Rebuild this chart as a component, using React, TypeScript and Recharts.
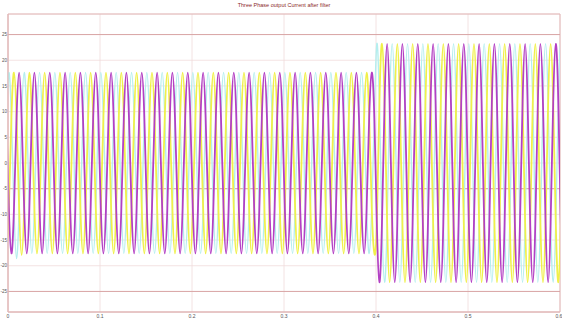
import React from 'react';
import { LineChart, Line, XAxis, YAxis, CartesianGrid, ReferenceLine, ReferenceArea } from 'recharts';

const title = 'Three Phase output Current after filter';
const xTicks = [0, 0.1, 0.2, 0.3, 0.4, 0.5, 0.6];
const yTicks = [-25, -20, -15, -10, -5, 0, 5, 10, 15, 20, 25];
const strongLines = [25, -5, -25];

const time = [
  -0.0018, 0.0009, 0.0037,
  0.0065, 0.0093, 0.0121, 0.0148, 0.0176, 0.0204,
  0.0232, 0.0259, 0.0287, 0.0315, 0.0343, 0.0371,
  0.0398, 0.0426, 0.0454, 0.0482, 0.0509, 0.0537,
  0.0565, 0.0593, 0.0621, 0.0648, 0.0676, 0.0704,
  0.0732, 0.0759, 0.0787, 0.0815, 0.0843, 0.0871,
  0.0898, 0.0926, 0.0954, 0.0982, 0.1009, 0.1037,
  0.1065, 0.1093, 0.1121, 0.1148, 0.1176, 0.1204,
  0.1232, 0.1259, 0.1287, 0.1315, 0.1343, 0.1371,
  0.1398, 0.1426, 0.1454, 0.1482, 0.1509, 0.1537,
  0.1565, 0.1593, 0.1621, 0.1648, 0.1676, 0.1704,
  0.1732, 0.1759, 0.1787, 0.1815, 0.1843, 0.1871,
  0.1898, 0.1926, 0.1954, 0.1982, 0.2009, 0.2037,
  0.2065, 0.2093, 0.2121, 0.2148, 0.2176, 0.2204,
  0.2232, 0.2259, 0.2287, 0.2315, 0.2343, 0.2371,
  0.2398, 0.2426, 0.2454, 0.2482, 0.2509, 0.2537,
  0.2565, 0.2593, 0.2621, 0.2648, 0.2676, 0.2704,
  0.2732, 0.2759, 0.2787, 0.2815, 0.2843, 0.2871,
  0.2898, 0.2926, 0.2954, 0.2982, 0.3009, 0.3037,
  0.3065, 0.3093, 0.3121, 0.3148, 0.3176, 0.3204,
  0.3232, 0.3259, 0.3287, 0.3315, 0.3343, 0.3371,
  0.3398, 0.3426, 0.3454, 0.3482, 0.3509, 0.3537,
  0.3565, 0.3593, 0.3621, 0.3648, 0.3676, 0.3704,
  0.3732, 0.3759, 0.3787, 0.3815, 0.3843, 0.3871,
  0.3898, 0.3926, 0.3954, 0.3982, 0.4009, 0.4037,
  0.4065, 0.4093, 0.4121, 0.4148, 0.4176, 0.4204,
  0.4232, 0.4259, 0.4287, 0.4315, 0.4343, 0.4371,
  0.4398, 0.4426, 0.4454, 0.4482, 0.4509, 0.4537,
  0.4565, 0.4593, 0.4621, 0.4648, 0.4676, 0.4704,
  0.4732, 0.4759, 0.4787, 0.4815, 0.4843, 0.4871,
  0.4898, 0.4926, 0.4954, 0.4982, 0.5009, 0.5037,
  0.5065, 0.5093, 0.5121, 0.5148, 0.5176, 0.5204,
  0.5232, 0.5259, 0.5287, 0.5315, 0.5343, 0.5371,
  0.5398, 0.5426, 0.5454, 0.5482, 0.5509, 0.5537,
  0.5565, 0.5593, 0.5621, 0.5648, 0.5676, 0.5704,
  0.5732, 0.5759, 0.5787, 0.5815, 0.5843, 0.5871,
  0.5898, 0.5926, 0.5954, 0.5982, 0.6009, 0.6037,
];

const phaseYellow = [
  -17.6, -8.8, 8.8,
  17.6, 8.8, -8.8, -17.9, -8.8, 8.8,
  17.6, 8.8, -8.8, -17.6, -8.8, 8.8,
  17.6, 8.8, -8.8, -17.6, -8.8, 8.8,
  17.6, 8.8, -8.8, -17.6, -8.8, 8.8,
  17.6, 8.8, -8.8, -17.6, -8.8, 8.8,
  17.6, 8.8, -8.8, -17.6, -8.8, 8.8,
  17.6, 8.8, -8.8, -17.6, -8.8, 8.8,
  17.6, 8.8, -8.8, -17.6, -8.8, 8.8,
  17.6, 8.8, -8.8, -17.6, -8.8, 8.8,
  17.6, 8.8, -8.8, -17.6, -8.8, 8.8,
  17.6, 8.8, -8.8, -17.6, -8.8, 8.8,
  17.6, 8.8, -8.8, -17.6, -8.8, 8.8,
  17.6, 8.8, -8.8, -17.6, -8.8, 8.8,
  17.6, 8.8, -8.8, -17.6, -8.8, 8.8,
  17.6, 8.8, -8.8, -17.6, -8.8, 8.8,
  17.6, 8.8, -8.8, -17.6, -8.8, 8.8,
  17.6, 8.8, -8.8, -17.6, -8.8, 8.8,
  17.6, 8.8, -8.8, -17.6, -8.8, 8.8,
  17.6, 8.8, -8.8, -17.6, -8.8, 8.8,
  17.6, 8.8, -8.8, -17.6, -8.8, 8.8,
  17.6, 8.8, -8.8, -17.6, -8.8, 8.8,
  17.6, 8.8, -8.8, -17.6, -8.8, 8.8,
  17.6, 8.8, -8.8, -17.6, -8.8, 8.8,
  17.6, 8.8, -8.8, -17.6, -11.6, 11.6,
  23.2, 11.6, -11.6, -23.2, -11.6, 11.6,
  23.2, 11.6, -11.6, -23.2, -11.6, 11.6,
  23.2, 11.6, -11.6, -23.2, -11.6, 11.6,
  23.2, 11.6, -11.6, -23.2, -11.6, 11.6,
  23.2, 11.6, -11.6, -23.2, -11.6, 11.6,
  23.2, 11.6, -11.6, -23.2, -11.6, 11.6,
  23.2, 11.6, -11.6, -23.2, -11.6, 11.6,
  23.2, 11.6, -11.6, -23.2, -11.6, 11.6,
  23.2, 11.6, -11.6, -23.2, -11.6, 11.6,
  23.2, 11.6, -11.6, -23.2, -11.6, 11.6,
  23.2, 11.6, -11.6, -23.2, -11.6, 11.6,
  23.2, 11.6, -11.6, -23.2, -11.6, 11.6,
];

const phaseMagenta = [
  8.8, -8.8, -17.6,
  -8.8, 8.8, 17.6, 8.8, -8.8, -17.6,
  -8.8, 8.8, 17.6, 8.8, -8.8, -17.6,
  -8.8, 8.8, 17.6, 8.8, -8.8, -17.6,
  -8.8, 8.8, 17.6, 8.8, -8.8, -17.6,
  -8.8, 8.8, 17.6, 8.8, -8.8, -17.6,
  -8.8, 8.8, 17.6, 8.8, -8.8, -17.6,
  -8.8, 8.8, 17.6, 8.8, -8.8, -17.6,
  -8.8, 8.8, 17.6, 8.8, -8.8, -17.6,
  -8.8, 8.8, 17.6, 8.8, -8.8, -17.6,
  -8.8, 8.8, 17.6, 8.8, -8.8, -17.6,
  -8.8, 8.8, 17.6, 8.8, -8.8, -17.6,
  -8.8, 8.8, 17.6, 8.8, -8.8, -17.6,
  -8.8, 8.8, 17.6, 8.8, -8.8, -17.6,
  -8.8, 8.8, 17.6, 8.8, -8.8, -17.6,
  -8.8, 8.8, 17.6, 8.8, -8.8, -17.6,
  -8.8, 8.8, 17.6, 8.8, -8.8, -17.6,
  -8.8, 8.8, 17.6, 8.8, -8.8, -17.6,
  -8.8, 8.8, 17.6, 8.8, -8.8, -17.6,
  -8.8, 8.8, 17.6, 8.8, -8.8, -17.6,
  -8.8, 8.8, 17.6, 8.8, -8.8, -17.6,
  -8.8, 8.8, 17.6, 8.8, -8.8, -17.6,
  -8.8, 8.8, 17.6, 8.8, -8.8, -17.6,
  -8.8, 8.8, 17.6, 8.8, -8.8, -17.6,
  -8.8, 8.8, 17.6, 8.8, -11.6, -23.2,
  -11.6, 11.6, 23.2, 11.6, -11.6, -23.2,
  -11.6, 11.6, 23.2, 11.6, -11.6, -23.2,
  -11.6, 11.6, 23.2, 11.6, -11.6, -23.2,
  -11.6, 11.6, 23.2, 11.6, -11.6, -23.2,
  -11.6, 11.6, 23.2, 11.6, -11.6, -23.2,
  -11.6, 11.6, 23.2, 11.6, -11.6, -23.2,
  -11.6, 11.6, 23.2, 11.6, -11.6, -23.2,
  -11.6, 11.6, 23.2, 11.6, -11.6, -23.2,
  -11.6, 11.6, 23.2, 11.6, -11.6, -23.2,
  -11.6, 11.6, 23.2, 11.6, -11.6, -23.2,
  -11.6, 11.6, 23.2, 11.6, -11.6, -23.2,
  -11.6, 11.6, 23.2, 11.6, -11.6, -23.2,
];

const phaseCyan = [
  8.8, 17.6, 8.8,
  -8.8, -18.6, -8.8, 8.8, 17.6, 8.8,
  -8.8, -17.6, -8.8, 8.8, 17.6, 8.8,
  -8.8, -17.6, -8.8, 8.8, 17.6, 8.8,
  -8.8, -17.6, -8.8, 8.8, 17.6, 8.8,
  -8.8, -17.6, -8.8, 8.8, 17.6, 8.8,
  -8.8, -17.6, -8.8, 8.8, 17.6, 8.8,
  -8.8, -17.6, -8.8, 8.8, 17.6, 8.8,
  -8.8, -17.6, -8.8, 8.8, 17.6, 8.8,
  -8.8, -17.6, -8.8, 8.8, 17.6, 8.8,
  -8.8, -17.6, -8.8, 8.8, 17.6, 8.8,
  -8.8, -17.6, -8.8, 8.8, 17.6, 8.8,
  -8.8, -17.6, -8.8, 8.8, 17.6, 8.8,
  -8.8, -17.6, -8.8, 8.8, 17.6, 8.8,
  -8.8, -17.6, -8.8, 8.8, 17.6, 8.8,
  -8.8, -17.6, -8.8, 8.8, 17.6, 8.8,
  -8.8, -17.6, -8.8, 8.8, 17.6, 8.8,
  -8.8, -17.6, -8.8, 8.8, 17.6, 8.8,
  -8.8, -17.6, -8.8, 8.8, 17.6, 8.8,
  -8.8, -17.6, -8.8, 8.8, 17.6, 8.8,
  -8.8, -17.6, -8.8, 8.8, 17.6, 8.8,
  -8.8, -17.6, -8.8, 8.8, 17.6, 8.8,
  -8.8, -17.6, -8.8, 8.8, 17.6, 8.8,
  -8.8, -17.6, -8.8, 8.8, 17.6, 8.8,
  -8.8, -17.6, -8.8, 8.8, 23.2, 11.6,
  -11.6, -23.2, -11.6, 11.6, 23.2, 11.6,
  -11.6, -23.2, -11.6, 11.6, 23.2, 11.6,
  -11.6, -23.2, -11.6, 11.6, 23.2, 11.6,
  -11.6, -23.2, -11.6, 11.6, 23.2, 11.6,
  -11.6, -23.2, -11.6, 11.6, 23.2, 11.6,
  -11.6, -23.2, -11.6, 11.6, 23.2, 11.6,
  -11.6, -23.2, -11.6, 11.6, 23.2, 11.6,
  -11.6, -23.2, -11.6, 11.6, 23.2, 11.6,
  -11.6, -23.2, -11.6, 11.6, 23.2, 11.6,
  -11.6, -23.2, -11.6, 11.6, 23.2, 11.6,
  -11.6, -23.2, -11.6, 11.6, 23.2, 11.6,
  -11.6, -23.2, -11.6, 11.6, 23.2, 11.6,
];

const data = time.map((t, i) => ({
  t,
  ia: phaseYellow[i],
  ib: phaseMagenta[i],
  ic: phaseCyan[i],
}));

export default function App() {
  return (
    <div
      style={{
        position: 'absolute',
        left: 0,
        top: 0,
        width: 562,
        height: 320,
        background: '#ffffff',
        fontFamily: 'Arial, "Liberation Sans", sans-serif',
      }}
    >
      <div
        style={{
          position: 'absolute',
          left: 8,
          top: 2,
          width: 552,
          textAlign: 'center',
          fontSize: 5.5,
          lineHeight: '7px',
          color: '#8b2a2a',
        }}
      >
        {title}
      </div>
      <LineChart
        width={562}
        height={320}
        data={data}
        margin={{ top: 14, right: 2, bottom: 0, left: 0 }}
      >
        <CartesianGrid stroke="#f0dada" strokeWidth={0.8} />
        <XAxis
          dataKey="t"
          type="number"
          domain={[0, 0.6]}
          ticks={xTicks}
          allowDataOverflow
          height={8}
          tickSize={0}
          tickMargin={2}
          tick={{ fontSize: 5, fill: '#555' }}
          axisLine={{ stroke: '#e2b8b8' }}
        />
        <YAxis
          type="number"
          domain={[-29, 29]}
          ticks={yTicks}
          allowDataOverflow
          width={8}
          tickSize={0}
          tickMargin={1}
          interval={0}
          tick={{ fontSize: 4.5, fill: '#555' }}
          axisLine={{ stroke: '#e2b8b8' }}
        />
        <ReferenceArea x1={0} x2={0.6} y1={-29} y2={29} fill="none" stroke="#e2b8b8" strokeWidth={1} />
        {strongLines.map((v) => (
          <ReferenceLine key={v} y={v} stroke="#d9a6a6" strokeWidth={1} />
        ))}
        <Line type="natural" dataKey="ic" stroke="#b4eeee" strokeWidth={1.4} dot={false} isAnimationActive={false} />
        <Line type="natural" dataKey="ia" stroke="#f0f04a" strokeWidth={1.8} dot={false} isAnimationActive={false} />
        <Line type="natural" dataKey="ib" stroke="#b340c4" strokeWidth={1.8} dot={false} isAnimationActive={false} />
      </LineChart>
    </div>
  );
}
